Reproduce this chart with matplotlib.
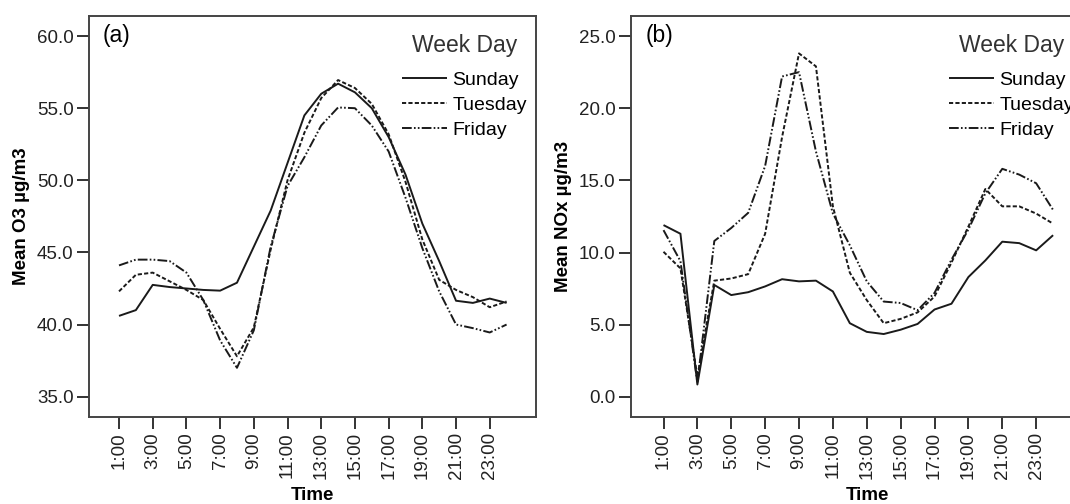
import numpy as np
import matplotlib
matplotlib.use("Agg")
import matplotlib.pyplot as plt

# DATA
hours = ['%d:00' % h for h in range(1, 25)]
days = ['Sunday', 'Tuesday', 'Friday']

o3_sunday  = [40.6, 41.0, 42.75, 42.6, 42.5, 42.4, 42.35, 42.9, 45.4, 47.9, 51.2, 54.5,
              56.0, 56.7, 56.1, 55.0, 53.0, 50.4, 47.0, 44.4, 41.65, 41.5, 41.8, 41.5]
o3_tuesday = [42.3, 43.45, 43.6, 43.0, 42.4, 41.7, 39.7, 37.8, 39.8, 45.2, 50.0, 53.3,
              55.7, 56.95, 56.4, 55.3, 53.2, 49.9, 45.9, 43.1, 42.4, 41.9, 41.2, 41.6]
o3_friday  = [44.1, 44.5, 44.5, 44.4, 43.6, 41.7, 38.9, 37.0, 39.6, 45.4, 49.6, 51.6,
              53.8, 55.05, 55.0, 53.8, 52.0, 48.8, 45.3, 42.3, 40.0, 39.75, 39.45, 40.0]

nox_sunday  = [11.9, 11.3, 0.85, 7.75, 7.05, 7.25, 7.65, 8.15, 8.0, 8.05, 7.3, 5.1,
               4.5, 4.35, 4.65, 5.05, 6.05, 6.45, 8.3, 9.45, 10.75, 10.65, 10.15, 11.2]
nox_tuesday = [10.05, 8.9, 1.4, 8.05, 8.2, 8.5, 11.3, 18.0, 23.8, 22.9, 13.2, 8.6,
               6.7, 5.1, 5.4, 5.85, 6.95, 9.3, 11.8, 14.4, 13.2, 13.2, 12.7, 12.0]
nox_friday  = [11.55, 9.4, 1.0, 10.8, 11.7, 12.75, 16.0, 22.2, 22.5, 17.0, 12.7, 10.5,
               8.0, 6.6, 6.5, 6.0, 7.2, 9.5, 11.6, 14.1, 15.8, 15.4, 14.8, 12.95]

# STYLE
plt.rcParams['font.family'] = ['Liberation Sans', 'DejaVu Sans']
plt.rcParams['lines.scale_dashes'] = False
estilos = {'Sunday': (0, ()),
           'Tuesday': (0, (3.0, 1.6)),
           'Friday': (0, (7.0, 1.6, 1.2, 1.6, 1.2, 1.6))}


def panel(ax, series, ylabel, yticks, ylim, xlim, letra, leg_x):
    x = np.arange(len(hours))
    for dia, y in zip(days, series):
        ax.plot(x, y, color='#1a1a1a', lw=1.4, linestyle=estilos[dia], label=dia)
    ax.set_xlim(*xlim)
    ax.set_ylim(*ylim)
    ax.set_xticks(x[::2])
    ax.set_xticklabels(hours[::2], rotation=90, fontsize=13.5, color='#222222')
    ax.set_yticks(yticks)
    ax.set_yticklabels(['%.1f' % v for v in yticks], fontsize=13.5, color='#222222')
    ax.tick_params(direction='out', length=8.5, width=1.4, color='#333333', pad=2.5)
    for s in ax.spines.values():
        s.set_color('#444444')
        s.set_linewidth(1.4)
    ax.set_ylabel(ylabel, fontsize=13.5, fontweight='bold', labelpad=5)
    ax.set_xlabel('Time', fontsize=13.5, fontweight='bold', labelpad=6)
    ax.text(0.031, 0.98, letra, transform=ax.transAxes, fontsize=16.5,
            va='top', ha='left')
    leg = ax.legend(loc='upper left', bbox_to_anchor=(leg_x, 0.955), frameon=False,
                    title='Week Day', fontsize=14, handlelength=2.3,
                    handletextpad=0.3, labelspacing=0.38, borderpad=0,
                    borderaxespad=0)
    leg.get_title().set_fontsize(16.5)
    leg.get_title().set_color('#333333')
    leg._legend_box.sep = 10


fig = plt.figure(figsize=(10.70, 5.04), dpi=100)
ax1 = fig.add_axes([0.0832, 0.1732, 0.4178, 0.795])
ax2 = fig.add_axes([0.5897, 0.1732, 0.4420, 0.795])

panel(ax1, [o3_sunday, o3_tuesday, o3_friday], 'Mean O3 µg/m3',
      [35, 40, 45, 50, 55, 60], (33.61, 61.39), (-1.78, 24.75), '(a)', 0.70)
panel(ax2, [nox_sunday, nox_tuesday, nox_friday], 'Mean NOx µg/m3',
      [0, 5, 10, 15, 20, 25], (-1.38, 26.39), (-1.92, 26.0), '(b)', 0.672)

fig.savefig('out.png', dpi=100)
